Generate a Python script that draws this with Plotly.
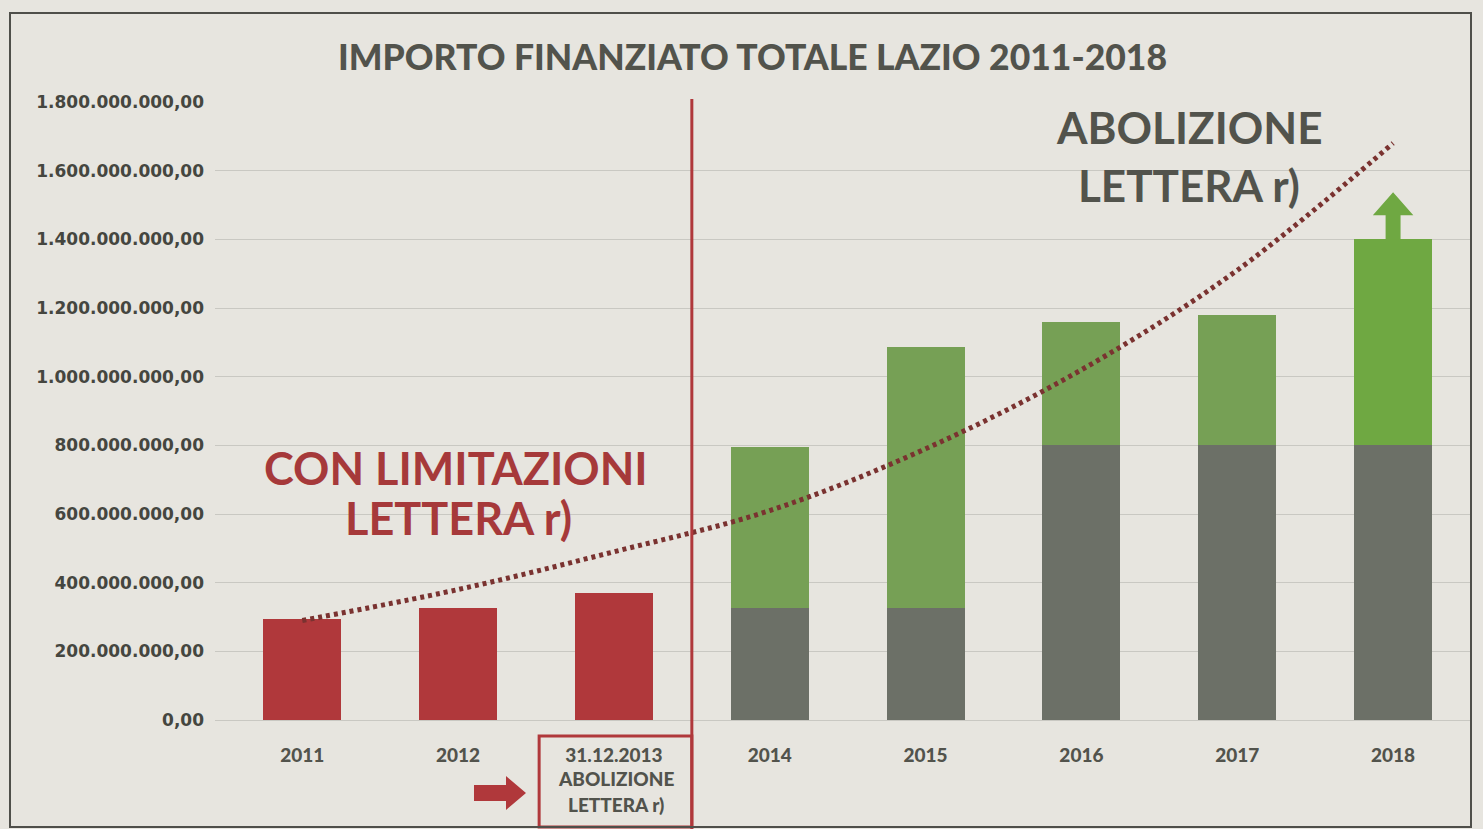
import plotly.graph_objects as go

# ---- data (euro) ----
years = ["2011", "2012", "2013", "2014", "2015", "2016", "2017", "2018"]
year_labels = ["2011", "2012", "31.12.2013", "2014", "2015", "2016", "2017", "2018"]
red_values = [295e6, 325e6, 370e6, None, None, None, None, None]
gray_values = [None, None, None, 325e6, 325e6, 800e6, 800e6, 800e6]
green_values = [None, None, None, 470e6, 760e6, 360e6, 380e6, 600e6]
trend_values = [290e6, 380e6, 490e6, 610e6, 790e6, 1020e6, 1310e6, 1680e6]
y_ticks = [0, 200e6, 400e6, 600e6, 800e6, 1000e6, 1200e6, 1400e6, 1600e6, 1800e6]
y_tick_labels = ["0,00", "200.000.000,00", "400.000.000,00", "600.000.000,00",
                 "800.000.000,00", "1.000.000.000,00", "1.200.000.000,00",
                 "1.400.000.000,00", "1.600.000.000,00", "1.800.000.000,00"]

W, H = 1483, 829
L, R, T, B = 215, 1471, 102, 720

BG = "#e7e5df"
RED = "#b0383b"
GRAY = "#6c7067"
GREEN = ["#76a055", "#76a055", "#76a055", "#76a055", "#6fa842"]
TEXT_GRAY = "#52534c"
TEXT_RED = "#a6393a"


def px_x(px):
    return (px - L) / (R - L)


def px_y(py):
    return (B - py) / (B - T)


fig = go.Figure()
fig.add_trace(go.Bar(x=years, y=red_values, marker_color=RED, width=0.5,
                     marker_line_width=0, name="2011-2013"))
fig.add_trace(go.Bar(x=years, y=gray_values, marker_color=GRAY, width=0.5,
                     marker_line_width=0, name="base"))
fig.add_trace(go.Bar(x=years, y=green_values, marker_color=GREEN[:3] + GREEN, width=0.5,
                     marker_line_width=0, name="incremento"))
fig.add_trace(go.Scatter(x=years, y=trend_values, mode="lines",
                         line=dict(color="#7a3230", width=5, dash="4px,4px", shape="spline"),
                         name="tendenza"))

shapes = []
# divider between the restricted period and the abolition period
shapes.append(dict(type="line", xref="x", yref="paper", x0=2.5, x1=2.5,
                   y0=px_y(829), y1=px_y(99), line=dict(color=RED, width=3)))
# box around the 2013 label
shapes.append(dict(type="rect", xref="x", yref="paper", x0=1.52, x1=2.5,
                   y0=px_y(827), y1=px_y(736), line=dict(color=RED, width=3)))
# outer frame
shapes.append(dict(type="rect", xref="paper", yref="paper", x0=px_x(10), x1=px_x(1471),
                   y0=px_y(827), y1=px_y(13), line=dict(color="#4f4f4a", width=2)))
# red arrow pointing at the 2013 box
pts = [(474, 785), (506, 785), (506, 776), (526, 793), (506, 810), (506, 801), (474, 801)]
path = "M " + " L ".join(f"{px_x(a):.5f},{px_y(b):.5f}" for a, b in pts) + " Z"
shapes.append(dict(type="path", xref="paper", yref="paper", path=path,
                   fillcolor=RED, line=dict(width=0)))
# green up arrow on top of the 2018 bar
top18 = gray_values[7] + green_values[7]
sw, hw = 0.048, 0.13
arrow = [(7 - sw, top18), (7 - sw, top18 + 70e6), (7 - hw, top18 + 70e6), (7, top18 + 137e6),
         (7 + hw, top18 + 70e6), (7 + sw, top18 + 70e6), (7 + sw, top18)]
path2 = "M " + " L ".join(f"{a:.4f},{b:.0f}" for a, b in arrow) + " Z"
shapes.append(dict(type="path", xref="x", yref="y", path=path2,
                   fillcolor=GREEN[4], line=dict(width=0)))

annotations = [
    dict(text="IMPORTO FINANZIATO TOTALE LAZIO 2011-2018", x=px_x(752), y=px_y(56),
         font=dict(family="Lato", size=35.5, color=TEXT_GRAY, weight=900)),
    dict(text="CON LIMITAZIONI", x=px_x(456), y=px_y(468),
         font=dict(family="Lato", size=45, color=TEXT_RED, weight="bold")),
    dict(text="LETTERA r)", x=px_x(458), y=px_y(518),
         font=dict(family="Lato", size=45, color=TEXT_RED, weight="bold")),
    dict(text="ABOLIZIONE", x=px_x(1189), y=px_y(127),
         font=dict(family="Lato", size=44, color=TEXT_GRAY, weight="bold")),
    dict(text="LETTERA r)", x=px_x(1189), y=px_y(185),
         font=dict(family="Lato", size=44, color=TEXT_GRAY, weight="bold")),
    dict(text="ABOLIZIONE", x=px_x(616), y=px_y(778),
         font=dict(family="Lato", size=19, color=TEXT_GRAY, weight=900)),
    dict(text="LETTERA r)", x=px_x(616), y=px_y(804),
         font=dict(family="Lato", size=19, color=TEXT_GRAY, weight=900)),
]
for a in annotations:
    a.update(xref="paper", yref="paper", showarrow=False, xanchor="center", yanchor="middle")

fig.update_layout(
    width=W, height=H,
    margin=dict(l=L, r=W - R, t=T, b=H - B),
    paper_bgcolor=BG, plot_bgcolor=BG,
    barmode="stack", showlegend=False,
    shapes=shapes, annotations=annotations,
    xaxis=dict(type="category", range=[-0.56, 7.5], tickmode="array",
               tickvals=years, ticktext=year_labels, showgrid=False, zeroline=False,
               showline=False, ticks="", ticklabelstandoff=22,
               tickfont=dict(family="Lato", size=19, color=TEXT_GRAY, weight=900)),
    yaxis=dict(range=[0, 1.8e9], tickmode="array", tickvals=y_ticks, ticktext=y_tick_labels,
               showgrid=True, gridcolor="#c9c8c2", gridwidth=1, zeroline=True,
               zerolinecolor="#c9c8c2", zerolinewidth=1, showline=False, ticks="",
               ticklabelstandoff=10,
               tickfont=dict(family="DejaVu Sans", size=17, color="#45463f", weight="bold")),
)

fig.write_html("out.html")
